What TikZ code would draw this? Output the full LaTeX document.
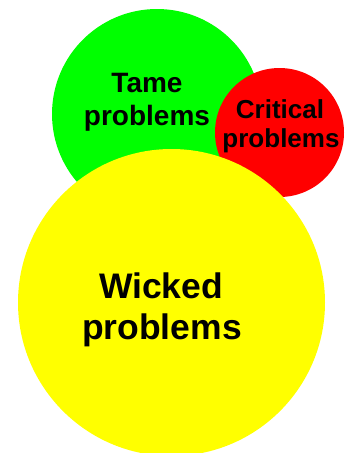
\documentclass[tikz,border=0pt]{standalone}
\usepackage{fontspec}
\setmainfont{Liberation Sans}
\begin{document}
\begin{tikzpicture}[x=1pt,y=-1pt,
  lbl/.style={anchor=base,inner sep=0pt,font=\bfseries\fontsize{#1}{#1}\selectfont}]
\useasboundingbox (0,0) rectangle (345,453);
\fill[fill={rgb,255:red,0;green,255;blue,0}] (157,114) circle[radius=105];
\fill[fill={rgb,255:red,255;green,0;blue,0}] (279.5,132.5) circle[radius=64.5];
\fill[fill={rgb,255:red,255;green,255;blue,0}] (171.5,302.5) circle[radius=153.5];
\node[lbl=28] (tame1) at (147,92) {Tame};
\node[lbl=28] (tame2) at (147,125) {problems};
\node[lbl=26] (crit1) at (280,118) {Critical};
\node[lbl=26] (crit2) at (281,147) {problems};
\node[lbl=35.5] (wick1) at (161,298) {Wicked};
\node[lbl=35.5] (wick2) at (162,339) {problems};
\end{tikzpicture}
\end{document}
